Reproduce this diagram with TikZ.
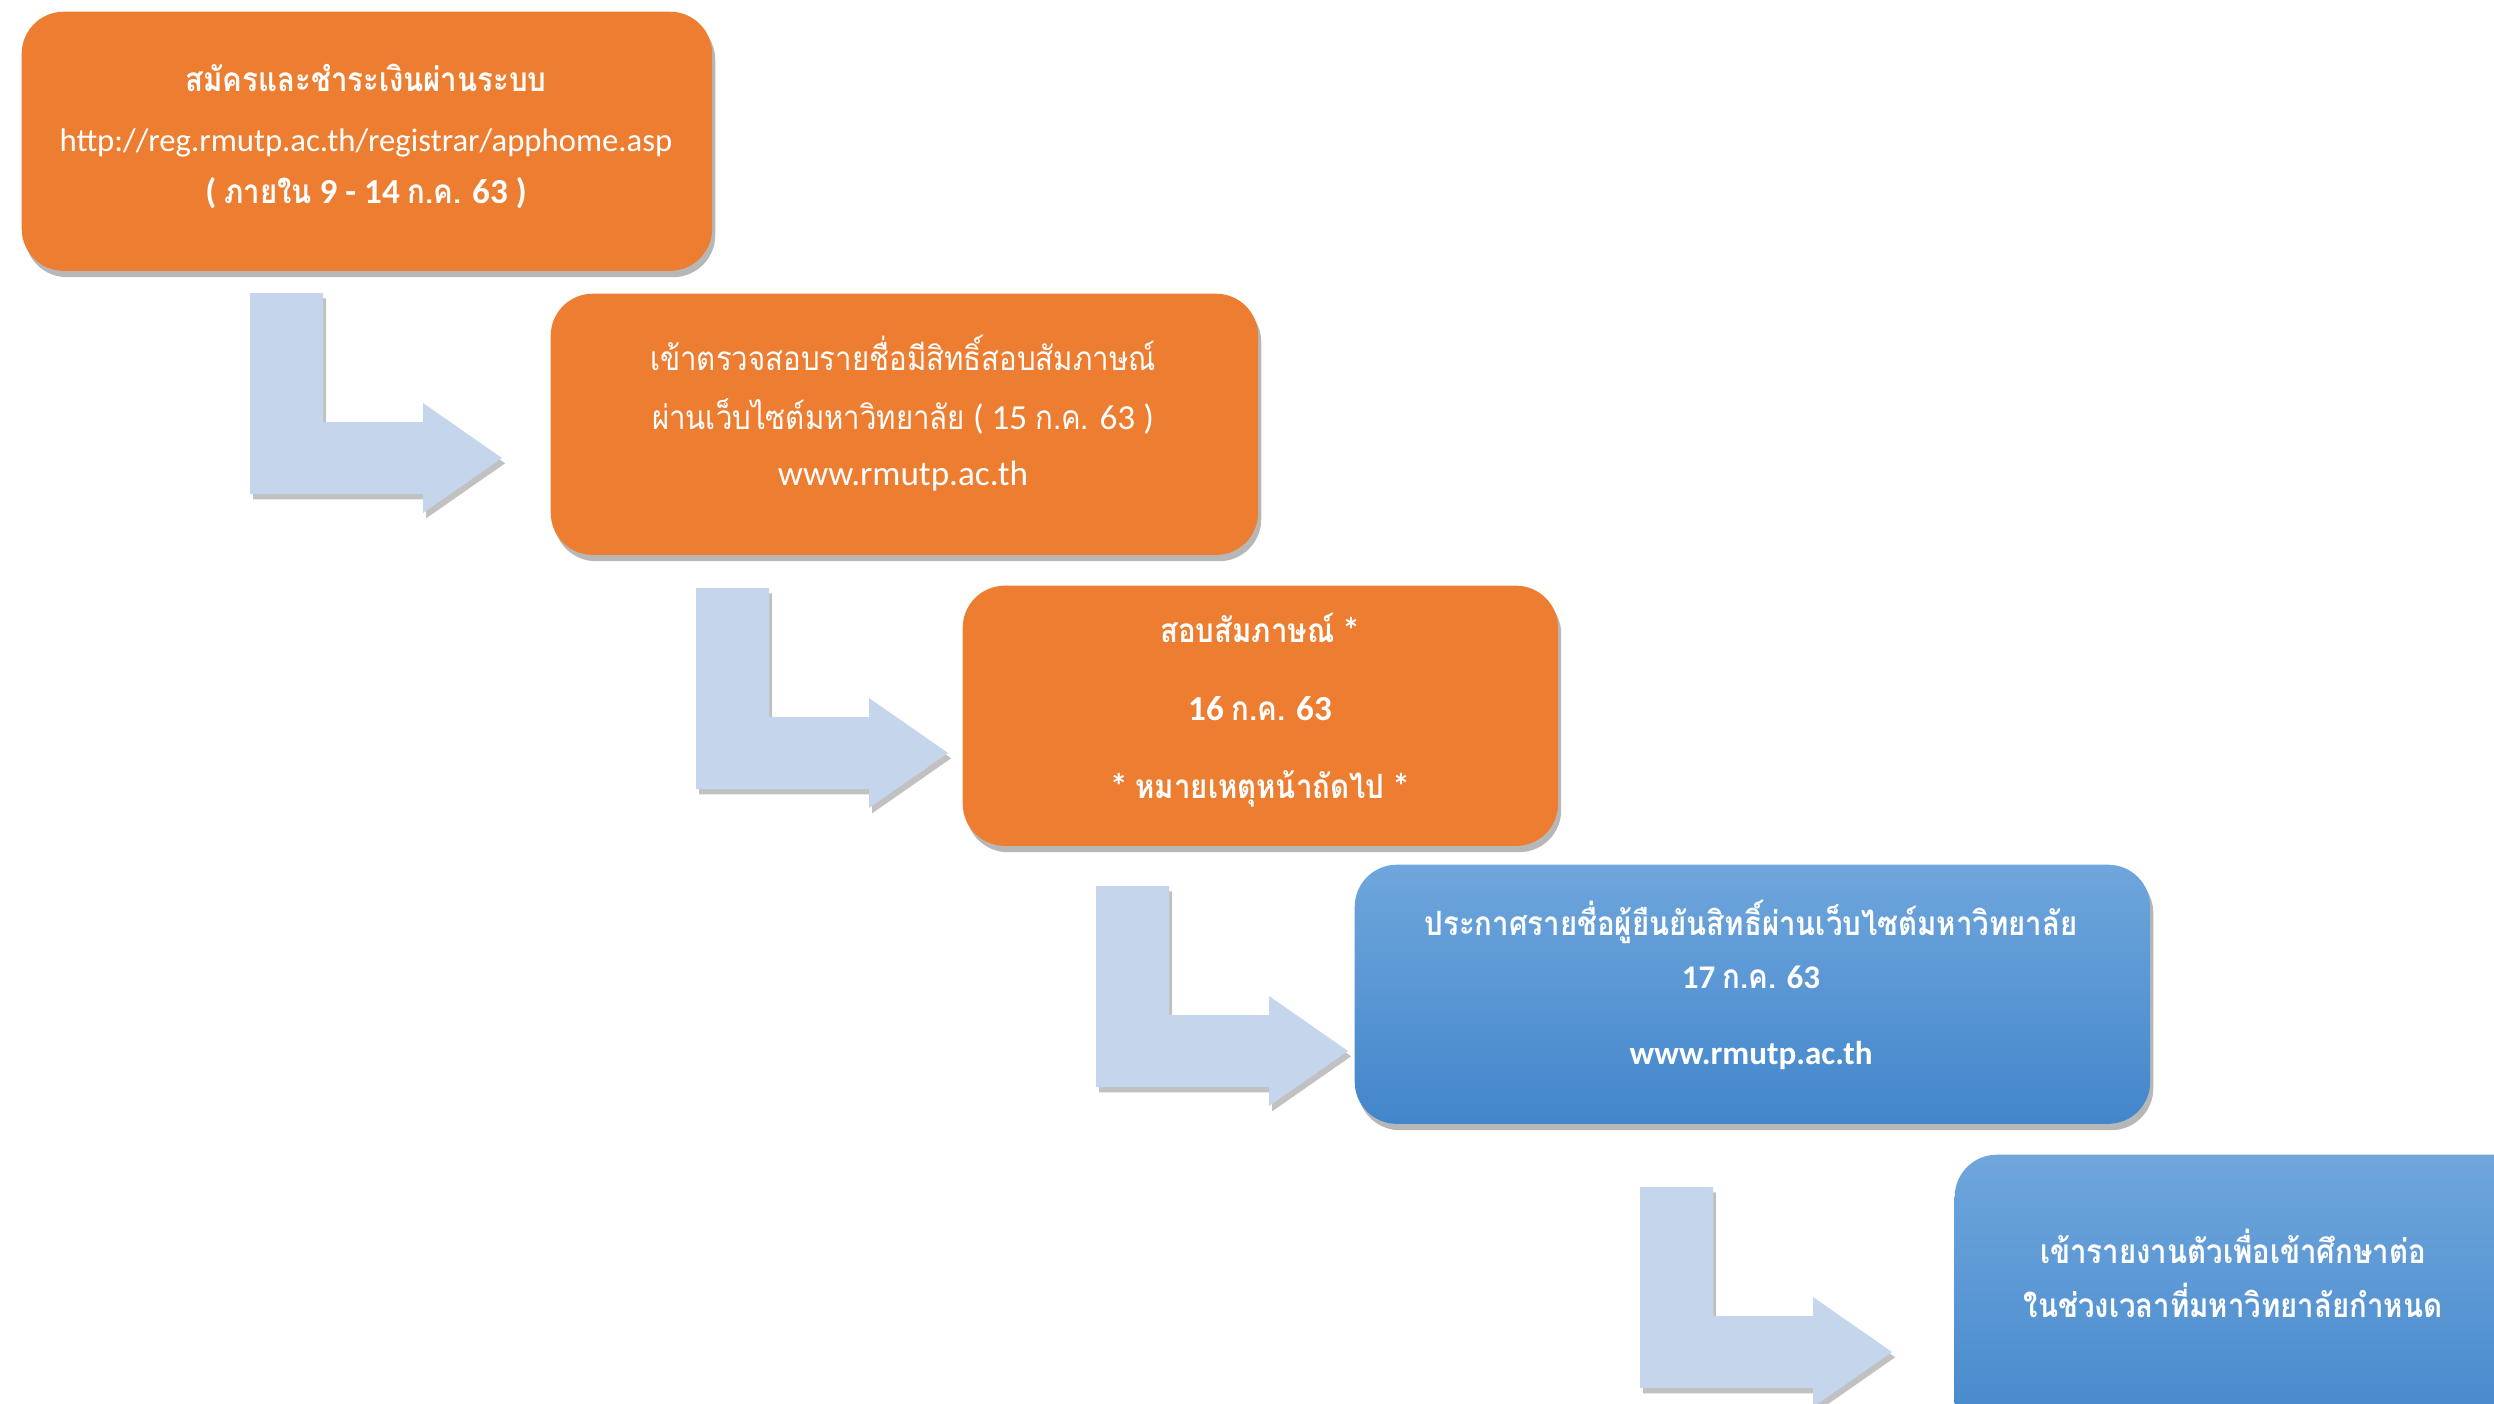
\documentclass[tikz,border=0pt]{standalone}
\usepackage{fontspec}
\setmainfont{Carlito}
\newfontfamily\thaifont[Script=Thai,FakeStretch=0.88]{Loma}
\newcommand\tha[1]{{\thaifont\fontsize{9.5}{12}\selectfont #1}}
\usetikzlibrary{shadows}
\definecolor{orng}{HTML}{ED7D31}
\definecolor{bluetop}{HTML}{6FA6DC}
\definecolor{bluebot}{HTML}{4286CB}
\definecolor{arrowfill}{HTML}{C5D5EB}
\begin{document}
\begin{tikzpicture}[x=0.01cm,y=-0.01cm,
  boxshadow/.style={drop shadow={shadow xshift=0.9pt,shadow yshift=-1.8pt,opacity=0.4,fill=black!70}},
  stepbox/.style={rectangle,rounded corners=0.42cm,inner sep=0pt,anchor=north west,boxshadow},
  orangebox/.style={stepbox,fill=orng},
  bluebox/.style={stepbox,top color=bluetop,bottom color=bluebot},
  txt/.style={anchor=base,text=white,inner sep=0pt,font=\fontsize{10}{12}\selectfont},
  btxt/.style={txt,font=\fontsize{10}{12}\selectfont\bfseries},
  b4txt/.style={txt,font=\fontsize{9.4}{12}\selectfont\bfseries},
  bentarrow/.pic={
    \fill[arrowfill,drop shadow={shadow xshift=0.9pt,shadow yshift=-1.5pt,opacity=0.35,fill=black!70}]
      (0,0) -- (73,0) -- (73,129) -- (173,129) -- (173,110) -- (252,165)
      -- (173,220) -- (173,201) -- (0,201) -- cycle;
  }]
\useasboundingbox (0,0) rectangle (2494,1403);

% arrows
\pic at (250,293) {bentarrow};
\pic at (696,588) {bentarrow};
\pic at (1096,886) {bentarrow};
\pic at (1640,1187) {bentarrow};

% boxes
\node[orangebox,minimum width=6.90cm,minimum height=2.59cm] (b1) at (21,11) {};
\node[orangebox,minimum width=7.07cm,minimum height=2.61cm] (b2) at (550,293) {};
\node[orangebox,minimum width=5.95cm,minimum height=2.60cm] (b3) at (962,585) {};
\node[bluebox,minimum width=7.95cm,minimum height=2.59cm] (b4) at (1354,864) {};
\node[bluebox,minimum width=6.20cm,minimum height=3.00cm] (b5) at (1954,1154) {};

% texts box 1
\node[btxt] (t11) at (366,91) {\tha{สมัครและชำระเงินผ่านระบบ}};
\node[txt,font=\fontsize{9.3}{12}\selectfont] (t12) at (366,151) {http://reg.rmutp.ac.th/registrar/apphome.asp};
\node[btxt] (t13) at (366,203) {( \tha{ภายใน} 9 - 14 \tha{ก.ค.} 63 )};

% texts box 2
\node[txt] (t21) at (903,370) {\tha{เข้าตรวจสอบรายชื่อมีสิทธิ์สอบสัมภาษณ์}};
\node[txt] (t22) at (903,429) {\tha{ผ่านเว็บไซต์มหาวิทยาลัย} ( 15 \tha{ก.ค.} 63 )};
\node[txt] (t23) at (903,485) {www.rmutp.ac.th};

% texts box 3
\node[btxt] (t31) at (1260,642) {\tha{สอบสัมภาษณ์} *};
\node[btxt] (t32) at (1260,720) {16 \tha{ก.ค.} 63};
\node[btxt] (t33) at (1260,798) {* \tha{หมายเหตุหน้าถัดไป} *};

% texts box 4
\node[b4txt] (t41) at (1751,935) {\tha{ประกาศรายชื่อผู้ยืนยันสิทธิ์ผ่านเว็บไซต์มหาวิทยาลัย}};
\node[b4txt] (t42) at (1751,988) {17 \tha{ก.ค.} 63};
\node[b4txt] (t43) at (1751,1064) {www.rmutp.ac.th};

% texts box 5
\node[btxt] (t51) at (2233,1263) {\tha{เข้ารายงานตัวเพื่อเข้าศึกษาต่อ}};
\node[btxt] (t52) at (2233,1317) {\tha{ในช่วงเวลาที่มหาวิทยาลัยกำหนด}};
\end{tikzpicture}
\end{document}
